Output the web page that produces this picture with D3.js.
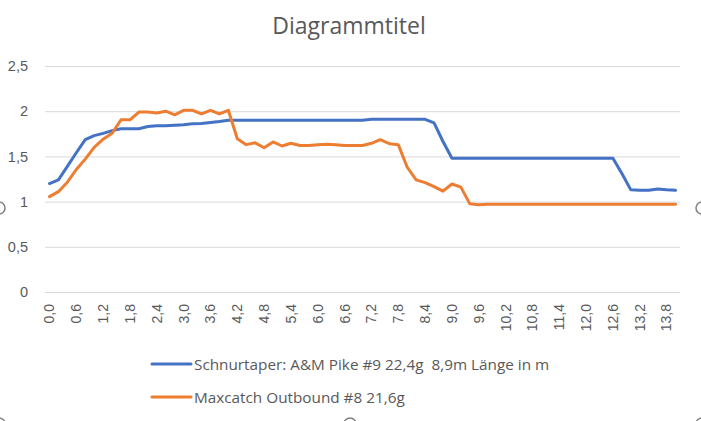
<!DOCTYPE html>
<html>
<head>
<meta charset="utf-8">
<script src="https://d3js.org/d3.v7.min.js"></script>
<style>
  body { margin: 0; background: #fff; }
  svg { font-family: "Open Sans", "Noto Sans", sans-serif; }
  .grid line { stroke: #d9d9d9; stroke-width: 1; }
  .grid path { display: none; }
  .tick text { fill: #595959; }
</style>
</head>
<body>
<svg id="chart"></svg>
<script>
// chart data
var title = "Diagrammtitel";
var seriesNames = [
  "Schnurtaper: A&M Pike #9 22,4g  8,9m Länge in m",
  "Maxcatch Outbound #8 21,6g"
];
// lengths in m, 0,0 .. 14,0 in 0,2 steps
var categories = ["0,0","0,2","0,4","0,6","0,8","1,0","1,2","1,4","1,6","1,8",
  "2,0","2,2","2,4","2,6","2,8","3,0","3,2","3,4","3,6","3,8",
  "4,0","4,2","4,4","4,6","4,8","5,0","5,2","5,4","5,6","5,8",
  "6,0","6,2","6,4","6,6","6,8","7,0","7,2","7,4","7,6","7,8",
  "8,0","8,2","8,4","8,6","8,8","9,0","9,2","9,4","9,6","9,8",
  "10,0","10,2","10,4","10,6","10,8","11,0","11,2","11,4","11,6","11,8",
  "12,0","12,2","12,4","12,6","12,8","13,0","13,2","13,4","13,6","13,8","14,0"];
var pikeValues = [1.20,1.24,1.39,1.54,1.685,1.73,1.755,1.785,1.805,1.805,
  1.805,1.83,1.84,1.84,1.845,1.85,1.86,1.865,1.875,1.885,
  1.90,1.90,1.90,1.90,1.90,1.90,1.90,1.90,1.90,1.90,
  1.90,1.90,1.90,1.90,1.90,1.90,1.91,1.91,1.91,1.91,
  1.91,1.91,1.91,1.87,1.665,1.48,1.48,1.48,1.48,1.48,
  1.48,1.48,1.48,1.48,1.48,1.48,1.48,1.48,1.48,1.48,
  1.48,1.48,1.48,1.48,1.31,1.13,1.125,1.125,1.14,1.13,1.125];
var maxcatchValues = [1.055,1.11,1.215,1.355,1.47,1.60,1.69,1.755,1.905,1.905,
  1.99,1.99,1.98,2.00,1.96,2.01,2.01,1.97,2.01,1.97,
  2.01,1.695,1.63,1.65,1.595,1.66,1.615,1.645,1.62,1.62,
  1.63,1.635,1.63,1.62,1.62,1.62,1.645,1.685,1.64,1.63,
  1.38,1.24,1.21,1.165,1.115,1.195,1.16,0.975,0.965,0.97,
  0.97,0.97,0.97,0.97,0.97,0.97,0.97,0.97,0.97,0.97,
  0.97,0.97,0.97,0.97,0.97,0.97,0.97,0.97,0.97,0.97,0.97];
var yTicks = [0, 0.5, 1, 1.5, 2, 2.5];
var colors = ["#4472c4", "#ed7d31"];

var W = 701, H = 421;
var plot = {left: 45, right: 680, top: 66, bottom: 292};

var svg = d3.select("#chart").attr("width", W).attr("height", H);

var x = d3.scaleBand().domain(categories).range([plot.left, plot.right]).padding(0);
var y = d3.scaleLinear().domain([0, 2.5]).range([plot.bottom, plot.top]);
var fmt = function(d) { return String(d).replace(".", ","); };

// title
svg.append("text")
  .attr("x", 349).attr("y", 34)
  .attr("text-anchor", "middle")
  .style("font-size", "23px")
  .style("fill", "#595959")
  .text(title);

// y gridlines + labels
svg.append("g")
  .attr("class", "grid")
  .attr("transform", "translate(" + plot.left + ",0)")
  .call(d3.axisLeft(y).tickValues(yTicks)
    .tickSize(-(plot.right - plot.left))
    .tickPadding(17)
    .tickFormat(fmt))
  .selectAll("text").style("font-size", "14.5px");

// x labels, every third category, rotated
var xAxis = svg.append("g")
  .attr("transform", "translate(0," + plot.bottom + ")")
  .call(d3.axisBottom(x)
    .tickValues(categories.filter(function(d, i) { return i % 3 === 0; }))
    .tickSize(0));
xAxis.select(".domain").remove();
xAxis.selectAll("text")
  .style("font-size", "14px")
  .attr("text-anchor", "end")
  .attr("transform", "rotate(-90)")
  .attr("x", -12).attr("y", 0).attr("dy", "0.35em");

// lines
var line = d3.line()
  .x(function(d, i) { return x(categories[i]) + x.bandwidth() / 2; })
  .y(function(d) { return y(d); });

[pikeValues, maxcatchValues].forEach(function(vals, k) {
  svg.append("path")
    .datum(vals)
    .attr("fill", "none")
    .attr("stroke", colors[k])
    .attr("stroke-width", 3)
    .attr("stroke-linejoin", "round")
    .attr("stroke-linecap", "round")
    .attr("d", line);
});

// legend
var legend = svg.append("g");
seriesNames.forEach(function(name, k) {
  var ly = 364 + k * 33;
  legend.append("line")
    .attr("x1", 152).attr("x2", 191)
    .attr("y1", ly).attr("y2", ly)
    .attr("stroke", colors[k]).attr("stroke-width", 3)
    .attr("stroke-linecap", "round");
  legend.append("text")
    .attr("x", 194).attr("y", ly + 6)
    .style("font-size", "15.3px")
    .style("white-space", "pre")
    .style("fill", "#595959")
    .text(name);
});

// chart-frame selection handles
[[-1, 208], [702, 208], [350, 424], [-1, 424], [702, 424]].forEach(function(p) {
  svg.append("circle")
    .attr("cx", p[0]).attr("cy", p[1]).attr("r", 6)
    .attr("fill", "#fff").attr("stroke", "#7f7f7f").attr("stroke-width", 1.5);
});
</script>
</body>
</html>
